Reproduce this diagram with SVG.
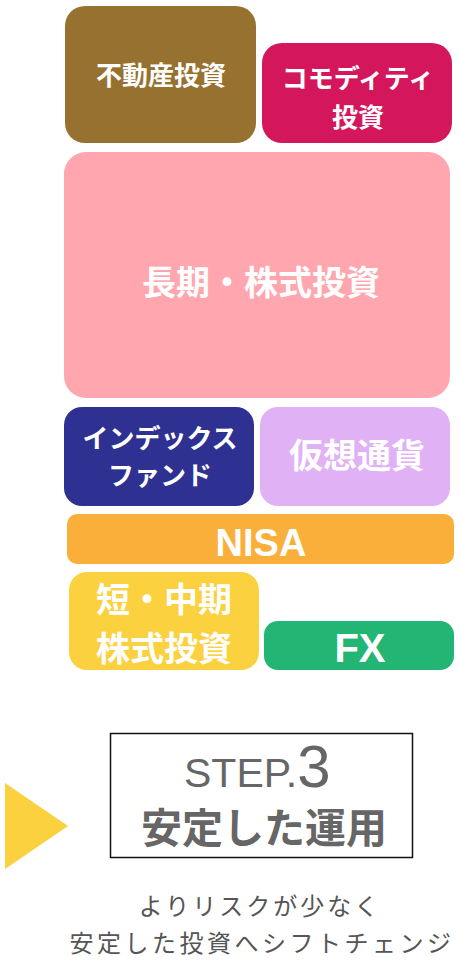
<svg xmlns="http://www.w3.org/2000/svg" width="460" height="960" viewBox="0 0 460 960">
<style>
.t{font-family:"Noto Sans CJK JP","Noto Sans",sans-serif;font-weight:bold;fill:#fff;text-anchor:middle}
.l{font-family:"Liberation Sans","Noto Sans",sans-serif;fill:#fff;text-anchor:middle}
.g{font-family:"Noto Sans CJK JP",sans-serif;fill:#555;text-anchor:middle}
</style>
<rect width="460" height="960" fill="#fff"/>
<g id="fudousan"><rect x="65" y="6" width="191" height="137" rx="20" fill="#97712F"/><text class="t" x="161" y="85" font-size="26">不動産投資</text></g>
<g id="commodity"><rect x="262" y="43" width="190" height="100" rx="20" fill="#D4175C"/><text class="t" x="358" y="88" font-size="26">コモディティ</text><text class="t" x="358" y="127" font-size="26">投資</text></g>
<g id="choki"><rect x="64" y="152" width="386" height="246" rx="22" fill="#FFA6AF"/><text class="t" x="261" y="295" font-size="34">長期・株式投資</text></g>
<g id="index"><rect x="64" y="407" width="190" height="99" rx="18" fill="#2E3192"/><text class="t" x="160" y="448" font-size="26">インデックス</text><text class="t" x="160" y="485" font-size="26">ファンド</text></g>
<g id="kasou"><rect x="260" y="407" width="190" height="99" rx="18" fill="#E1B1F6"/><text class="t" x="357" y="468" font-size="34">仮想通貨</text></g>
<g id="nisa"><rect x="67" y="514" width="387" height="50" rx="10" fill="#FBAF3B"/><text class="l" x="261" y="556" font-size="38" font-weight="bold">NISA</text></g>
<g id="tanki"><rect x="69" y="572" width="190" height="98" rx="18" fill="#FCD13F"/><text class="t" x="164" y="612" font-size="34">短・中期</text><text class="t" x="164" y="661" font-size="34">株式投資</text></g>
<g id="fx"><rect x="264" y="621" width="190" height="49" rx="14" fill="#22B573"/><text class="l" x="360" y="662" font-size="40" font-weight="bold">FX</text></g>
<g id="connectors"><polygon points="5,783 68,826 5,869" fill="#FCD13F"/></g>
<g id="step"><rect x="110.5" y="733.5" width="302" height="124" fill="#fff" stroke="#111" stroke-width="1.5"/>
<text x="184" y="787" font-family="'Liberation Sans',sans-serif" font-size="41" fill="#666">STEP.<tspan font-size="60">3</tspan></text>
<text x="264" y="843" font-family="'Noto Sans CJK JP',sans-serif" font-weight="bold" font-size="41" fill="#666" text-anchor="middle">安定した運用</text></g>
<g id="caption"><text class="g" x="260" y="915" font-size="24" letter-spacing="3">よりリスクが少なく</text><text class="g" x="262" y="952" font-size="24" letter-spacing="3.5">安定した投資へシフトチェンジ</text></g>
</svg>
